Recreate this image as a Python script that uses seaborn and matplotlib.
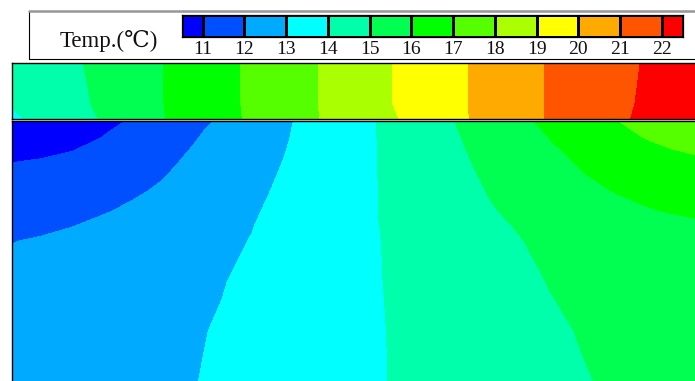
import numpy as np
import matplotlib
matplotlib.use("Agg")
import matplotlib.pyplot as plt
import seaborn as sns
from matplotlib.colors import ListedColormap, BoundaryNorm
from matplotlib.patches import Rectangle
from matplotlib.lines import Line2D

sns.set_theme(style="white")
plt.rcParams["font.family"] = ["Liberation Serif", "DejaVu Serif", "DejaVu Sans"]

# Temperature bands (degC) and their fill colours
levels = [11, 12, 13, 14, 15, 16, 17, 18, 19, 20, 21, 22]
band_colors = ["#0000ff", "#0050ff", "#00aaff", "#00ffff", "#00ffaa", "#00ff50",
               "#00ff00", "#55ff00", "#aaff00", "#ffff00", "#ffaa00", "#ff5500",
               "#ff0000"]
bar_edges = [10.5] + levels + [22.5]
tick_labels = [str(v) for v in levels]

# Upper strip: horizontal station (px), depth (px), temperature (degC)
top_x = [0, 76, 152, 228, 304, 380, 456, 532, 608, 683]
top_y = [0, 40, 55]
top_t_surface = [14.10, 15.06, 16.01, 16.99, 17.97, 18.99, 20.00, 21.00, 21.79, 22.57]
top_t_middle = [14.05, 14.96, 16.00, 16.99, 17.97, 18.99, 20.00, 21.00, 21.85, 22.60]
top_t_bottom = [13.85, 14.85, 15.98, 16.97, 17.95, 18.90, 19.98, 21.00, 21.90, 22.60]

# Lower section: horizontal station (px), depth (px), temperature (degC)
low_x = [0, 30, 60, 90, 120, 150, 180, 210, 240, 300, 360, 420, 480, 540,
         570, 600, 630, 660, 683]
low_y = [0, 10, 20, 30, 40, 55, 70, 90, 105, 120, 160, 210, 260]
low_t_000 = [10.30, 10.48, 10.66, 10.84, 11.04, 11.39, 11.74, 12.10, 12.48, 13.23,
             13.94, 14.71, 15.48, 16.23, 16.58, 16.93, 17.28, 17.63, 17.90]
low_t_010 = [10.40, 10.57, 10.75, 10.92, 11.19, 11.52, 11.86, 12.20, 12.54, 13.24,
             13.94, 14.68, 15.40, 16.11, 16.44, 16.78, 17.10, 17.40, 17.63]
low_t_020 = [10.55, 10.71, 10.86, 11.04, 11.34, 11.65, 11.95, 12.27, 12.59, 13.25,
             13.94, 14.65, 15.34, 16.01, 16.32, 16.63, 16.94, 17.18, 17.35]
low_t_030 = [10.75, 10.87, 10.98, 11.22, 11.49, 11.76, 12.03, 12.33, 12.64, 13.27,
             13.94, 14.62, 15.28, 15.91, 16.18, 16.44, 16.70, 16.97, 17.08]
low_t_040 = [10.97, 11.03, 11.24, 11.45, 11.65, 11.86, 12.09, 12.39, 12.68, 13.30,
             13.94, 14.59, 15.22, 15.82, 16.09, 16.30, 16.51, 16.73, 16.89]
low_t_055 = [11.17, 11.33, 11.49, 11.64, 11.80, 11.96, 12.20, 12.48, 12.76, 13.34,
             13.94, 14.55, 15.14, 15.69, 15.96, 16.16, 16.33, 16.51, 16.65]
low_t_070 = [11.36, 11.50, 11.63, 11.77, 11.90, 12.08, 12.33, 12.58, 12.83, 13.38,
             13.94, 14.50, 15.06, 15.54, 15.78, 16.01, 16.16, 16.30, 16.41]
low_t_090 = [11.61, 11.72, 11.83, 11.94, 12.10, 12.30, 12.51, 12.72, 12.92, 13.43,
             13.95, 14.45, 14.96, 15.35, 15.54, 15.74, 15.93, 16.05, 16.10]
low_t_105 = [11.80, 11.89, 11.98, 12.13, 12.30, 12.47, 12.64, 12.81, 12.98, 13.46,
             13.94, 14.42, 14.89, 15.22, 15.36, 15.50, 15.65, 15.79, 15.90]
low_t_120 = [11.98, 12.05, 12.18, 12.32, 12.46, 12.60, 12.73, 12.87, 13.02, 13.47,
             13.93, 14.38, 14.83, 15.15, 15.28, 15.40, 15.53, 15.65, 15.75]
low_t_160 = [12.25, 12.35, 12.45, 12.56, 12.66, 12.76, 12.86, 12.97, 13.13, 13.53,
             13.93, 14.31, 14.68, 15.04, 15.15, 15.27, 15.39, 15.51, 15.60]
low_t_210 = [12.40, 12.49, 12.58, 12.67, 12.76, 12.85, 12.94, 13.05, 13.22, 13.57,
             13.92, 14.25, 14.57, 14.89, 15.04, 15.16, 15.28, 15.41, 15.50]
low_t_260 = [12.50, 12.58, 12.66, 12.74, 12.82, 12.89, 12.97, 13.11, 13.27, 13.59,
             13.92, 14.22, 14.51, 14.80, 14.95, 15.08, 15.22, 15.35, 15.45]

top_t = np.array([top_t_surface, top_t_middle, top_t_bottom])
low_t = np.array([low_t_000, low_t_010, low_t_020, low_t_030, low_t_040,
                  low_t_055, low_t_070, low_t_090, low_t_105, low_t_120,
                  low_t_160, low_t_210, low_t_260])

palette = sns.color_palette(band_colors)

W, H = 695, 381
fig = plt.figure(figsize=(W / 100, H / 100), dpi=100)


def px_axes(x0, y0, x1, y1):
    return fig.add_axes([x0 / W, 1 - y1 / H, (x1 - x0) / W, (y1 - y0) / H])


def style_frame(ax, sides=("left", "top", "bottom", "right"), lw=1.0):
    for name, sp in ax.spines.items():
        sp.set_visible(name in sides)
        sp.set_color("black")
        sp.set_linewidth(lw)
    ax.set_xticks([])
    ax.set_yticks([])


# Upper strip
ax_top = px_axes(12, 63, 695, 119)
ax_top.contourf(top_x, top_y, top_t, levels=levels, colors=palette, extend="both")
ax_top.set_xlim(0, 683)
ax_top.set_ylim(55, 0)
style_frame(ax_top, sides=("left", "top", "bottom"))

# Lower section
ax_low = px_axes(12, 120.5, 695, 381)
ax_low.contourf(low_x, low_y, low_t, levels=levels, colors=palette, extend="both")
ax_low.set_xlim(0, 683)
ax_low.set_ylim(260, 0)
style_frame(ax_low, sides=("left", "top"))

# Legend frame
fig.add_artist(Rectangle((29 / W, 1 - 59 / H), (720 - 29) / W, (59 - 11) / H,
                         transform=fig.transFigure, fill=False,
                         edgecolor="black", linewidth=0.8))
fig.add_artist(Line2D([29 / W, 1.0], [1 - 11 / H, 1 - 11 / H],
                      transform=fig.transFigure, color="#999999", linewidth=1.8))

fig.text(60 / W, 1 - 47 / H, "Temp.(\u2103)", fontsize=16.5, color="#111111",
         va="baseline", ha="left")

# Colour scale bar
cax = px_axes(181.7, 15, 682.7, 37.3)
cmap = ListedColormap(band_colors)
norm = BoundaryNorm(bar_edges, ncolors=len(band_colors))
mids = [(a + b) / 2 for a, b in zip(bar_edges[:-1], bar_edges[1:])]
cax.pcolormesh(bar_edges, [0, 1], [mids], cmap=cmap, norm=norm,
               edgecolors="black", linewidth=0.8)
cax.set_xlim(bar_edges[0], bar_edges[-1])
cax.set_ylim(0, 1)
style_frame(cax, lw=0.9)
cax.set_xticks(levels)
cax.set_xticklabels(tick_labels, fontsize=14, color="#111111")
cax.tick_params(axis="x", length=0, pad=2.5, bottom=True)

fig.savefig("out.png", dpi=100)
